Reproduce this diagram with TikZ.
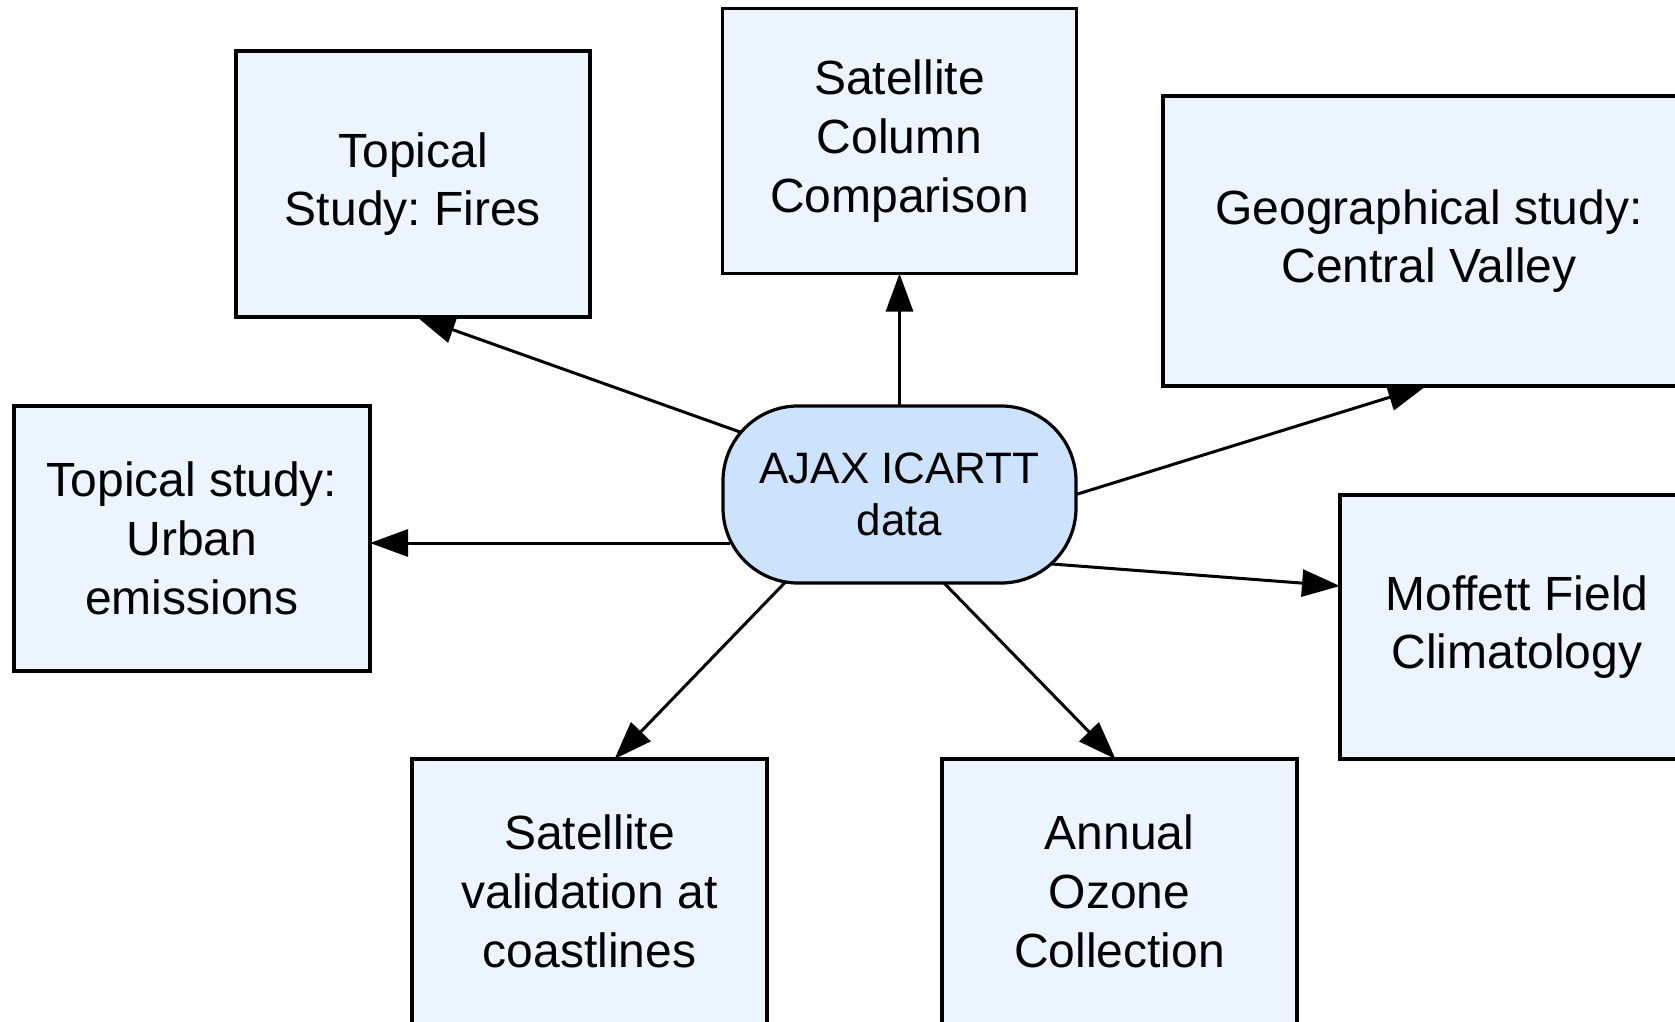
\documentclass[tikz,border=0pt]{standalone}
\usepackage{fontspec}
\setmainfont{Liberation Sans}
\frenchspacing
\usetikzlibrary{arrows.meta}
\definecolor{boxfill}{RGB}{236,244,255}
\definecolor{hubfill}{RGB}{205,226,252}
\tikzset{
  topicbox/.style={draw=black, line width=3.2pt, fill=boxfill, align=center,
    inner sep=0pt, outer sep=0pt, font=\fontsize{48}{58.7}\selectfont},
  hubnode/.style={draw=black, line width=3.2pt, fill=hubfill, align=center,
    rounded corners=75pt, inner sep=0pt, outer sep=0pt,
    minimum width=353pt, minimum height=177pt, font=\fontsize{44}{51.7}\selectfont},
  arr/.style={line width=3pt, -{Triangle[length=38pt,width=27pt]}}
}
\begin{document}
\begin{tikzpicture}[x=1pt,y=-1pt]
\useasboundingbox (0,0) rectangle (1675,1022);
\fill[white] (0,0) rectangle (1675,1022);

\node[hubnode] (ajax) at (899.5,494.5) {AJAX ICARTT\\data};

\node[topicbox, minimum width=354pt, minimum height=266pt] (fires) at (413,184) {Topical\\Study: Fires};
\node[topicbox, minimum width=354pt, minimum height=265pt] (column) at (899.5,141) {Satellite\\Column\\Comparison};
\node[topicbox, minimum width=532pt, minimum height=290pt] (geo) at (1429,241) {Geographical study:\\Central Valley};
\node[topicbox, minimum width=356pt, minimum height=265pt] (urban) at (192,538.5) {Topical study:\\Urban\\emissions};
\node[topicbox, minimum width=354pt, minimum height=264pt] (moffett) at (1517,627) {Moffett Field\\Climatology};
\node[topicbox, minimum width=355pt, minimum height=265pt] (satval) at (589.5,891.5) {Satellite\\validation at\\coastlines};
\node[topicbox, minimum width=355pt, minimum height=265pt] (annual) at (1119.5,891.5) {Annual\\Ozone\\Collection};

\coordinate (us) at ([shift={(-169.5,48.5)}]ajax.center);

\draw[arr] ([shift={(-159.5,-62.5)}]ajax.center) -- ([shift={(4,0)}]fires.south);
\draw[arr] (ajax.north) -- (column.south);
\draw[arr] (ajax.east) -- ([shift={(-3,0)}]geo.south);
\draw[arr] (us) -- (us -| urban.east);
\draw[arr] ([shift={(152.5,69.5)}]ajax.center) -- ([shift={(0,-41)}]moffett.west);
\draw[arr] ([shift={(-114.5,88)}]ajax.center) -- ([shift={(25,0)}]satval.north);
\draw[arr] ([shift={(44.5,88.5)}]ajax.center) -- ([shift={(-4,0)}]annual.north);
\end{tikzpicture}
\end{document}
